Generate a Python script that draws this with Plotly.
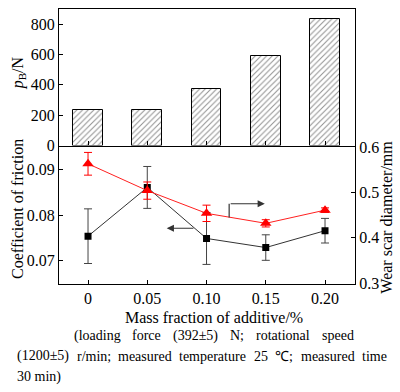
import plotly.graph_objects as go

# ---- data ----
mass_fraction = [0, 0.05, 0.10, 0.15, 0.20]
tick_labels = ["0", "0.05", "0.10", "0.15", "0.20"]
pb_load = [232, 232, 373, 589, 836]
friction = [0.0754, 0.0861, 0.0749, 0.0729, 0.0766]
friction_err = [0.0060, 0.0046, 0.0057, 0.0028, 0.0027]
wear = [0.563, 0.504, 0.454, 0.432, 0.461]
wear_err = [0.025, 0.019, 0.018, 0.008, 0.005]
pb_ticks = [0, 200, 400, 600, 800]
cof_ticks = [0.07, 0.08, 0.09]
cof_ticktext = ["0.07", "0.08", "0.09"]
wsd_ticks = [0.3, 0.4, 0.5, 0.6]

FONT = "Liberation Serif, Times New Roman, serif"
W, H = 400, 392
L, R, T, B = 59, 45, 2, 108
PW, PH = W - L - R, H - T - B
SPLIT_PX = 142  # y pixel of panel boundary


def px_x(px):
    return (px - L) / PW


def px_y(py):
    return (H - B - py) / PH


split = px_y(SPLIT_PX)

fig = go.Figure()

fig.add_trace(go.Bar(
    x=mass_fraction, y=pb_load, width=0.025, xaxis="x", yaxis="y",
    marker=dict(color="white", line=dict(color="black", width=1),
                pattern=dict(shape="/", fgcolor="#222", bgcolor="white", size=4, solidity=0.25)),
    showlegend=False,
))

fig.add_trace(go.Scatter(
    x=mass_fraction, y=friction, xaxis="x2", yaxis="y2", mode="lines+markers",
    line=dict(color="#333", width=1),
    marker=dict(symbol="square", size=7, color="black"),
    error_y=dict(type="data", array=friction_err, color="#444", thickness=1, width=4),
    showlegend=False,
))

fig.add_trace(go.Scatter(
    x=mass_fraction, y=wear, xaxis="x2", yaxis="y3", mode="lines+markers",
    line=dict(color="#ff2020", width=1),
    marker=dict(symbol="triangle-up", size=10, color="#ff0000"),
    error_y=dict(type="data", array=wear_err, color="#ff0000", thickness=1, width=4),
    showlegend=False,
))

xr = [-0.0245, 0.2253]
axis_common = dict(showgrid=False, zeroline=False, showline=True, linecolor="black",
                   linewidth=1.2, ticks="inside", ticklen=4, tickcolor="black",
                   tickfont=dict(family=FONT, size=16, color="black"))

fig.update_layout(
    width=W, height=H,
    margin=dict(l=L, r=R, t=T, b=B),
    paper_bgcolor="white", plot_bgcolor="white",
    font=dict(family=FONT, color="black"),
    bargap=0,
    xaxis=dict(domain=[0, 1], anchor="y", range=xr, tickvals=mass_fraction,
               showticklabels=False, mirror=True, **axis_common),
    yaxis=dict(domain=[split, 1], anchor="x", range=[0, 900], tickvals=pb_ticks,
               mirror=True, **axis_common),
    xaxis2=dict(domain=[0, 1], anchor="y2", range=xr, tickvals=mass_fraction,
                ticktext=tick_labels, **axis_common),
    yaxis2=dict(domain=[0, split], anchor="x2", range=[0.0649, 0.0953],
                tickvals=cof_ticks, ticktext=cof_ticktext, **axis_common),
    yaxis3=dict(overlaying="y2", side="right", anchor="x2", range=[0.2985, 0.6032],
                tickvals=wsd_ticks, **axis_common),
)

# arrows
fig.add_annotation(x=0.0664, y=0.07714, ax=0.0902, ay=0.07714, xref="x2", yref="y2",
                   axref="x2", ayref="y2", showarrow=True, arrowhead=2, arrowsize=1.2,
                   arrowwidth=1.2, arrowcolor="#333", text="")
fig.add_shape(type="line", x0=0.1191, x1=0.1191, y0=0.4447, y1=0.4751, xref="x2", yref="y3",
              line=dict(color="#333", width=1.2))
fig.add_annotation(x=0.1492, y=0.4751, ax=0.1191, ay=0.4751, xref="x2", yref="y3",
                   axref="x2", ayref="y3", showarrow=True, arrowhead=2, arrowsize=1.2,
                   arrowwidth=1.2, arrowcolor="#333", text="")

# axis titles
fig.add_annotation(text="<i>p</i><sub>B</sub>/N", x=px_x(18), y=px_y(68), xref="paper", yref="paper",
                   textangle=-90, showarrow=False, font=dict(family=FONT, size=16),
                   xanchor="center", yanchor="middle")
fig.add_annotation(text="Coefficient of friction", x=px_x(18), y=px_y(207), xref="paper", yref="paper",
                   textangle=-90, showarrow=False, font=dict(family=FONT, size=16),
                   xanchor="center", yanchor="middle")
fig.add_annotation(text="Wear scar diameter/mm", x=px_x(387), y=px_y(216), xref="paper", yref="paper",
                   textangle=-90, showarrow=False, font=dict(family=FONT, size=16),
                   xanchor="center", yanchor="middle")
fig.add_annotation(text="Mass fraction of additive/%", x=px_x(214), y=px_y(318), xref="paper",
                   yref="paper", showarrow=False, font=dict(family=FONT, size=16),
                   xanchor="center", yanchor="middle")

# notes, word-by-word to mimic justified text
note_lines = [
    (337, [("(loading", 72.7), ("force", 131.4), ("(392±5)", 172), ("N;", 229.3),
           ("rotational", 255.3), ("speed", 320.9)]),
    (358, [("(1200±5)", 16), ("r/min;", 75.5), ("measured", 117.3), ("temperature", 178.4),
           ("25", 252.7), ("℃;", 274.2), ("measured", 299.6), ("time", 360.7)]),
    (379, [("30 min)", 16)]),
]
for py, words in note_lines:
    for w, px in words:
        fig.add_annotation(text=w, x=px_x(px), y=px_y(py), xref="paper", yref="paper",
                           showarrow=False, font=dict(family=FONT, size=14),
                           xanchor="left", yanchor="middle", xshift=-1)

fig.write_html("out.html", config={"displayModeBar": False},
               post_script="document.body.style.margin='0';")
